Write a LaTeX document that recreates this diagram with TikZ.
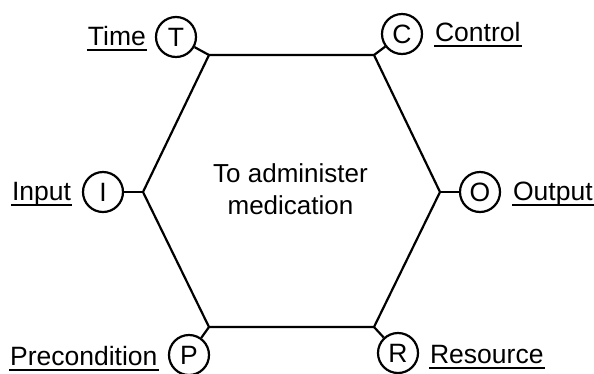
\documentclass[tikz,border=0pt]{standalone}
\usepackage{fontspec}
\setmainfont{Liberation Sans}
\begin{document}
\begin{tikzpicture}[x=1pt,y=-1pt,
  every path/.style={line width=2.2pt},
  circ/.style={draw, circle, minimum size=40pt, inner sep=0pt, line width=2.2pt, font=\fontsize{26.5}{30}\selectfont},
  lbl/.style={inner sep=0pt, font=\fontsize{26.5}{30}\selectfont},
  uline/.style={line width=1.8pt},
  edge/.style={line width=2.2pt, line join=miter}
]
\useasboundingbox (0,0) rectangle (594,373);
% hexagon corners
\coordinate (tl) at (209,55);
\coordinate (tr) at (374,55);
\coordinate (r) at (440,192);
\coordinate (br) at (374,327);
\coordinate (bl) at (209,327);
\coordinate (l) at (143,192);
\draw[edge] (tl) -- (tr) -- (r) -- (br) -- (bl) -- (l) -- cycle;
\node[lbl, align=center, font=\fontsize{26}{32}\selectfont] (main) at (290.5,189) {To administer\\medication};
% circles
\node[circ] (T) at (176,37) {T};
\node[circ] (C) at (402,34) {C};
\node[circ] (I) at (103,192) {I};
\node[circ] (O) at (480,192) {O};
\node[circ] (P) at (189,355) {P};
\node[circ] (R) at (398,353) {R};
\draw (T) -- (tl);
\draw (C) -- (tr);
\draw (I) -- (l);
\draw (O) -- (r);
\draw (P) -- (bl);
\draw (R) -- (br);
% labels
\node[lbl, anchor=base east] (tlab) at (147,45) {Time};
\node[lbl, anchor=base west] (clab) at (434,41) {Control};
\node[lbl, anchor=base west] (ilab) at (11,200) {Input};
\node[lbl, anchor=base west] (olab) at (512,200) {Output};
\node[lbl, anchor=base west] (plab) at (9,365) {Precondition};
\node[lbl, anchor=base west] (rlab) at (429,363) {Resource};
\foreach \n in {tlab,clab,ilab,olab,plab,rlab}{
  \draw[uline] ([yshift=-5pt]\n.base west) -- ([yshift=-5pt]\n.base east);
}
\end{tikzpicture}
\end{document}
